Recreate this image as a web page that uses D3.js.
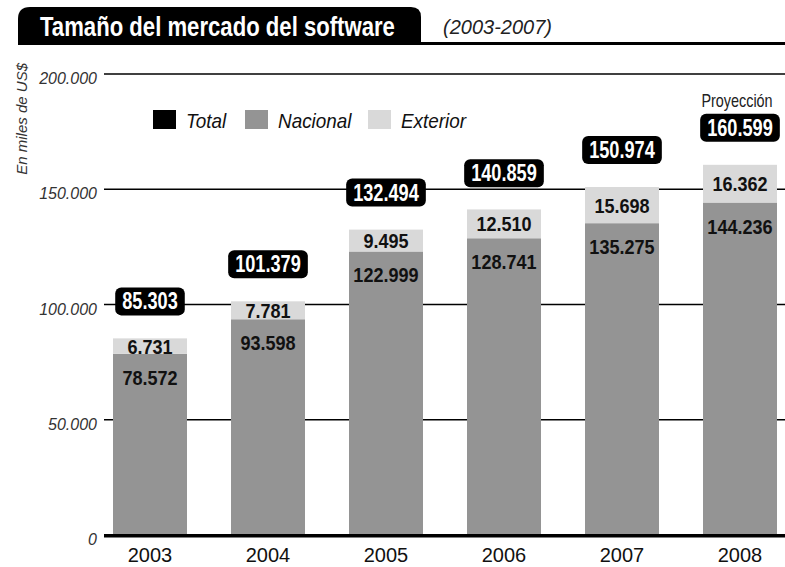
<!DOCTYPE html>
<html>
<head>
<meta charset="utf-8">
<script src="https://cdn.jsdelivr.net/npm/d3@7"></script>
<style>
  body { margin: 0; background: #fff; }
  svg { display: block; }
  text { font-family: "Liberation Sans", Arial, sans-serif; }
</style>
</head>
<body>
<svg id="chart" width="785" height="567"></svg>
<script>
const years = ["2003", "2004", "2005", "2006", "2007", "2008"];
const nacional = [78572, 93598, 122999, 128741, 135275, 144236];
const exterior = [6731, 7781, 9495, 12510, 15698, 16362];
const totals = [85303, 101379, 132494, 140859, 150974, 160599];
const yTicks = [0, 50000, 100000, 150000, 200000];
const legendItems = [
    { label: "Total", color: "#000000" },
    { label: "Nacional", color: "#949494" },
    { label: "Exterior", color: "#d9d9d9" }
];

const width = 785, height = 567;
const svg = d3.select("#chart");
const fmt = v => d3.format(",")(v).replace(/,/g, ".");

// no narrow font installed: squeeze Liberation Sans with a horizontal scale
function narrowText(parent, px, py, k) {
    return parent.append("text")
        .attr("transform", `translate(${px},${py}) scale(${k},1)`);
}

const x = d3.scaleBand()
    .domain(years)
    .range([91, 799])
    .paddingInner(0.373)
    .paddingOuter(0.1865);

const y = d3.scaleLinear()
    .domain([0, 200000])
    .range([535, 74]);

// title box + rule
svg.append("path")
    .attr("d", "M18,45 L18,19 Q18,7 30,7 L411,7 Q421,7 421,17 L421,45 Z")
    .attr("fill", "#000");
svg.append("rect")
    .attr("x", 421).attr("y", 42)
    .attr("width", width - 421).attr("height", 3)
    .attr("fill", "#000");
narrowText(svg, 40, 36, 0.82)
    .attr("font-size", 27).attr("font-weight", "bold")
    .attr("fill", "#fff")
    .text("Tamaño del mercado del software");
svg.append("text")
    .attr("x", 443).attr("y", 34)
    .attr("font-size", 20).attr("font-style", "italic")
    .attr("fill", "#222")
    .text("(2003-2007)");

// gridlines + tick labels
svg.append("g")
    .selectAll("line")
    .data(yTicks.filter(d => d > 0))
    .enter()
    .append("line")
    .attr("x1", 104).attr("x2", width)
    .attr("y1", d => y(d)).attr("y2", d => y(d))
    .attr("stroke", "#000").attr("stroke-width", 1.3);

svg.append("g")
    .selectAll("text")
    .data(yTicks)
    .enter()
    .append("text")
    .attr("x", 97)
    .attr("y", d => y(d) + 10)
    .attr("text-anchor", "end")
    .attr("font-size", 16).attr("font-style", "italic")
    .attr("fill", "#333")
    .text(d => d === 0 ? "0" : fmt(d));

svg.append("text")
    .attr("transform", "translate(27,63) rotate(-90)")
    .attr("text-anchor", "end")
    .attr("font-size", 15).attr("font-style", "italic")
    .attr("fill", "#333")
    .text("En miles de US$");

// legend
const legend = svg.append("g").attr("transform", "translate(153,110)");
const legendX = [0, 92, 215];
legendItems.forEach((item, i) => {
    legend.append("rect")
        .attr("x", legendX[i]).attr("y", 0)
        .attr("width", 23).attr("height", 19)
        .attr("fill", item.color);
    narrowText(legend, legendX[i] + 33, 18, 0.9)
        .attr("font-size", 21).attr("font-style", "italic")
        .attr("fill", "#111")
        .text(item.label);
});

// bars
const bars = svg.append("g")
    .selectAll("g")
    .data(years)
    .enter()
    .append("g");

bars.append("rect")
    .attr("x", d => x(d))
    .attr("width", x.bandwidth())
    .attr("y", (d, i) => y(nacional[i]))
    .attr("height", (d, i) => y(0) - y(nacional[i]))
    .attr("fill", legendItems[1].color);

bars.append("rect")
    .attr("x", d => x(d))
    .attr("width", x.bandwidth())
    .attr("y", (d, i) => y(nacional[i] + exterior[i]))
    .attr("height", (d, i) => y(nacional[i]) - y(nacional[i] + exterior[i]))
    .attr("fill", legendItems[2].color);

bars.each(function (d, i) {
    const g = d3.select(this);
    const cx = x(d) + x.bandwidth() / 2;

    // segment values
    narrowText(g, cx, (y(nacional[i]) + y(nacional[i] + exterior[i])) / 2 + 7.5, 0.86)
        .attr("text-anchor", "middle")
        .attr("font-size", 21).attr("font-weight", "bold")
        .attr("fill", "#111")
        .text(fmt(exterior[i]));
    narrowText(g, cx, y(nacional[i]) + 31, 0.86)
        .attr("text-anchor", "middle")
        .attr("font-size", 21).attr("font-weight", "bold")
        .attr("fill", "#111")
        .text(fmt(nacional[i]));

    // total badge
    const bottom = y(totals[i]) - 23;
    const badge = g.append("rect");
    const t = narrowText(g, cx, bottom - 6, 0.79)
        .attr("text-anchor", "middle")
        .attr("font-size", 23).attr("font-weight", "bold")
        .attr("fill", "#fff")
        .text(fmt(totals[i]));
    const w = t.node().getComputedTextLength() * 0.79 + 14;
    badge
        .attr("x", cx - w / 2).attr("y", bottom - 28)
        .attr("width", w).attr("height", 28)
        .attr("rx", 6)
        .attr("fill", "#000");
    if (d === "2008") {
        narrowText(g, cx - 3, bottom - 35, 0.8)
            .attr("text-anchor", "middle")
            .attr("font-size", 18)
            .attr("fill", "#222")
            .text("Proyección");
    }
});

// baseline
svg.append("rect")
    .attr("x", 104).attr("y", y(0) - 1)
    .attr("width", width - 104).attr("height", 3.5)
    .attr("fill", "#000");

// year labels
svg.append("g")
    .selectAll("text")
    .data(years)
    .enter()
    .append("text")
    .attr("x", d => x(d) + x.bandwidth() / 2)
    .attr("y", 562)
    .attr("text-anchor", "middle")
    .attr("font-size", 20)
    .attr("fill", "#111")
    .text(d => d);
</script>
</body>
</html>
